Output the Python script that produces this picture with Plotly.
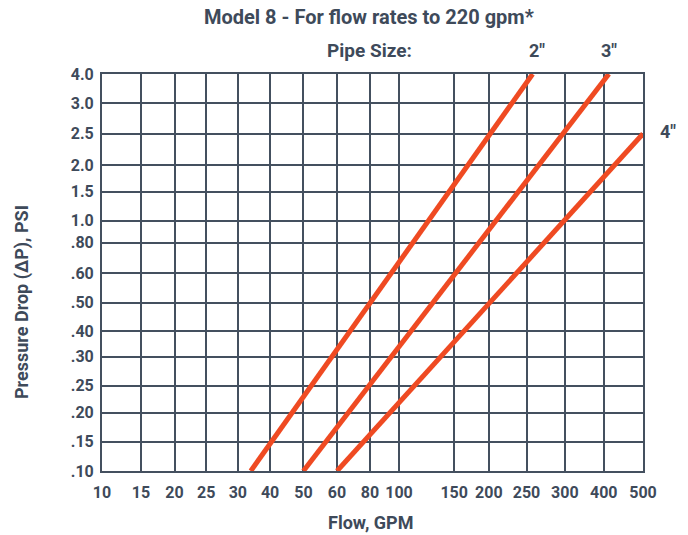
import numpy as np
import plotly.graph_objects as go

# ---- data ----
flow_ticks = [10, 15, 20, 25, 30, 40, 50, 60, 80, 100, 150, 200, 250, 300, 400, 500]
flow_labels = ["10", "15", "20", "25", "30", "40", "50", "60", "80", "100",
               "150", "200", "250", "300", "400", "500"]
psi_ticks = [0.10, 0.15, 0.20, 0.25, 0.30, 0.40, 0.50, 0.60, 0.80, 1.0, 1.5, 2.0, 2.5, 3.0, 4.0]
psi_labels = [".10", ".15", ".20", ".25", ".30", ".40", ".50", ".60", ".80",
              "1.0", "1.5", "2.0", "2.5", "3.0", "4.0"]

pipe_sizes = ['2"', '3"', '4"']
flow_start = [34, 50, 60]
flow_end = [258, 413, 500]
psi_start = [0.10, 0.10, 0.10]
psi_end = [4.0, 4.0, 2.5]

# ---- chart geometry: the hand-drawn (non-uniform) grid spacing of the original ----
x_grid_pos = [0, 39, 72.6, 104.3, 136, 168.3, 201.6, 235.3, 268.3, 297.3,
              352.6, 387.3, 425, 463.3, 502.3, 541.6]
y_grid_pos = [0, 29.4, 58.4, 85, 114, 139.7, 168.2, 197.4, 228, 250,
              279, 305.4, 336.7, 367.4, 396.4]


def xscale(v):
    return np.interp(v, flow_ticks, x_grid_pos)


def yscale(v):
    return np.interp(v, psi_ticks, y_grid_pos)


W, H = 688, 535
ML, MR, MT, MB = 102, 45, 74, 64
TXT = "#3e4a5a"
GRID = "#44505f"
RED = "#ef4a22"
FONT = "Roboto, Arial"

fig = go.Figure()
for name, f0, f1, p0, p1 in zip(pipe_sizes, flow_start, flow_end, psi_start, psi_end):
    fig.add_trace(go.Scatter(
        x=xscale([f0, f1]), y=yscale([p0, p1]), mode="lines", name=name,
        line=dict(color=RED, width=5), showlegend=False, hoverinfo="skip",
    ))

fig.update_layout(
    width=W, height=H,
    margin=dict(l=ML, r=MR, t=MT, b=MB),
    paper_bgcolor="white", plot_bgcolor="white",
    font=dict(family=FONT, color=TXT, size=14),
    xaxis=dict(
        range=[0, x_grid_pos[-1]], tickmode="array",
        tickvals=x_grid_pos, ticktext=flow_labels,
        showgrid=True, gridcolor=GRID, gridwidth=2,
        showline=True, linecolor=GRID, linewidth=2, mirror=True,
        zeroline=False, ticks="outside", ticklen=6, tickcolor="rgba(0,0,0,0)",
        tickfont=dict(family=FONT, size=16, color=TXT, weight="bold"),
    ),
    yaxis=dict(
        range=[0, y_grid_pos[-1]], tickmode="array",
        tickvals=y_grid_pos, ticktext=psi_labels,
        showgrid=True, gridcolor=GRID, gridwidth=2,
        showline=True, linecolor=GRID, linewidth=2, mirror=True,
        zeroline=False, ticks="outside", ticklen=3, tickcolor="rgba(0,0,0,0)",
        tickfont=dict(family=FONT, size=16, color=TXT, weight="bold"),
    ),
)

bold = dict(family=FONT, color=TXT, weight="bold")
PW, PH = W - ML - MR, H - MT - MB
annos = [
    dict(text="Model 8 - For flow rates to 220 gpm*", x=369, y=17, size=20),
    dict(text="Pipe Size:", x=369, y=50, size=19),
    dict(text='2"', x=537, y=50, size=18),
    dict(text='3"', x=609, y=50, size=18),
    dict(text='4"', x=668, y=131, size=18),
    dict(text="Flow, GPM", x=370, y=522, size=18),
]
for a in annos:
    fig.add_annotation(
        text=a["text"], xref="paper", yref="paper",
        x=(a["x"] - ML) / PW, y=(H - MB - a["y"]) / PH,
        showarrow=False, xanchor="center", yanchor="middle",
        font=dict(size=a["size"], **bold),
    )
fig.add_annotation(
    text="Pressure Drop (ΔP), PSI", xref="paper", yref="paper",
    x=(22 - ML) / PW, y=(H - MB - 302) / PH,
    showarrow=False, textangle=-90, xanchor="center", yanchor="middle",
    font=dict(size=18, **bold),
)

fig.write_html("out.html", config={"displayModeBar": False},
               post_script="document.body.style.margin='0';")
